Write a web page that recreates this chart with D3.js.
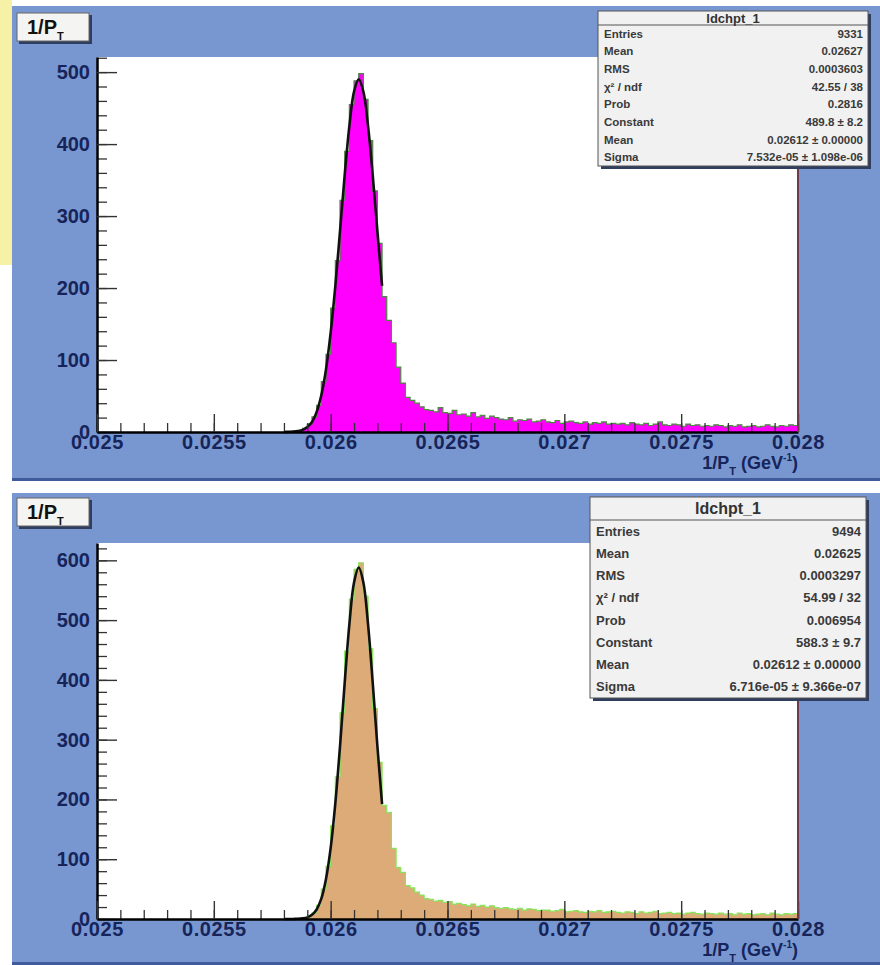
<!DOCTYPE html>
<html>
  <head>
    <title>ldchpt_1 1/PT histograms</title>
    <style>
      body { margin: 0; background: #fff; }
      text { font-family: "Liberation Sans", Arial, sans-serif; }
    </style>
  </head>
  <body>
    <script src="https://d3js.org/d3.v7.min.js"></script>
    <script>
      // histogram binning (1/PT, GeV^-1): bins start at binLo, width binWidth
      var binLo = 0.0258;
      var binWidth = 0.00002;

      // bin contents, upper panel (magenta)
      var countsTop = [
        0, 0, 1, 2, 5, 11, 21, 37, 70, 108,
        172, 238, 322, 390, 455, 488, 498, 462, 405, 335,
        262, 188, 155, 124, 90, 68, 48, 44, 40, 35,
        31, 30, 28, 34, 27, 26, 30, 24, 25, 22,
        27, 21, 23, 19, 22, 20, 18, 17, 20, 15,
        17, 16, 18, 14, 15, 17, 14, 13, 16, 12,
        14, 15, 13, 12, 14, 11, 13, 12, 14, 11,
        12, 11, 12, 10, 13, 11, 10, 12, 9, 11,
        14, 10, 9, 11, 10, 8, 11, 9, 10, 8,
        9, 8, 10, 9, 7, 9, 8, 10, 7, 8,
        9, 7, 8, 10, 8, 7, 9, 8, 10, 9
      ];

      // bin contents, lower panel (tan)
      var countsBottom = [
        0, 0, 0, 1, 2, 5, 10, 23, 50, 88,
        156, 238, 345, 448, 535, 585, 596, 540, 452, 352,
        262, 190, 178, 118, 86, 78, 56, 52, 45, 40,
        34, 33, 30, 31, 28, 29, 25, 26, 24, 22,
        25, 21, 23, 20, 22, 19, 18, 19, 17, 16,
        18, 15, 17, 16, 14, 15, 15, 13, 14, 16,
        12, 13, 14, 12, 11, 13, 12, 14, 11, 12,
        13, 11, 10, 12, 11, 9, 12, 10, 11, 13,
        9, 10, 11, 9, 10, 8, 10, 11, 9, 8,
        10, 9, 8, 10, 8, 9, 7, 10, 8, 9,
        7, 8, 9, 7, 10, 8, 7, 9, 8, 9
      ];

      var fitXs = [
        0.0258, 0.02582, 0.02584, 0.02586, 0.02588, 0.0259, 0.02592, 0.02594,
        0.02596, 0.02598, 0.026, 0.02602, 0.02604, 0.02606, 0.02608, 0.0261,
        0.02612, 0.02614, 0.02616, 0.02618, 0.0262, 0.02622
      ];
      var fitTop = [
        0, 0.2, 0.5, 1.3, 3, 7, 14, 28, 51, 87, 138, 203,
        279, 357, 425, 473, 490, 473, 425, 357, 279, 203
      ];
      var fitBottom = [
        0, 0, 0.1, 0.3, 1, 2.7, 7, 16, 34, 67, 119, 194,
        289, 395, 493, 563, 588, 563, 493, 395, 289, 192
      ];

      var xTicks = [0.025, 0.0255, 0.026, 0.0265, 0.027, 0.0275, 0.028];
      var xTickLabels = ["0.025", "0.0255", "0.026", "0.0265", "0.027", "0.0275", "0.028"];
      var yTicksTop = [0, 100, 200, 300, 400, 500];
      var yTicksBottom = [0, 100, 200, 300, 400, 500, 600];

      var statLabels = ["Entries", "Mean", "RMS", "\u03c7\u00b2 / ndf", "Prob", "Constant", "Mean", "Sigma"];
      var statsTop = ["9331", "0.02627", "0.0003603", "42.55 / 38", "0.2816",
                      "489.8 \u00b1 8.2", "0.02612 \u00b1 0.00000", "7.532e-05 \u00b1 1.098e-06"];
      var statsBottom = ["9494", "0.02625", "0.0003297", "54.99 / 32", "0.006954",
                         "588.3 \u00b1 9.7", "0.02612 \u00b1 0.00000", "6.716e-05 \u00b1 9.366e-07"];

      var W = 880, H = 965;
      var blue = "#7897d0", navy = "#16245a";

      var svg = d3.select("body").append("svg").attr("width", W).attr("height", H);

      // pale yellow strip at the left edge
      svg.append("rect").attr("x", 0).attr("y", 0).attr("width", 12).attr("height", 265).attr("fill", "#f6f1a6");

      function panel(opt) {
        var g = svg.append("g");
        // blue pad
        g.append("rect").attr("x", 12).attr("y", opt.padTop).attr("width", W - 12)
          .attr("height", opt.padBottom - opt.padTop).attr("fill", blue);
        g.append("rect").attr("x", 12).attr("y", opt.padBottom - 3).attr("width", W - 12)
          .attr("height", 3).attr("fill", "#3f5b9c");

        var x = d3.scaleLinear().domain([0.025, 0.028]).range([97, 798]);
        var y = d3.scaleLinear().domain([0, opt.yMax]).range([opt.plotBottom, opt.plotTop]);

        // frame
        g.append("rect").attr("x", 97).attr("y", opt.plotTop).attr("width", 701)
          .attr("height", opt.plotBottom - opt.plotTop).attr("fill", "#fff");

        // histogram
        var edges = opt.counts.map(function(c, i) { return { x: binLo + i * binWidth, c: c }; });
        edges.push({ x: binLo + opt.counts.length * binWidth, c: opt.counts[opt.counts.length - 1] });
        var area = d3.area().curve(d3.curveStepAfter)
          .x(function(d) { return x(d.x); }).y0(y(0)).y1(function(d) { return y(d.c); });
        var line = d3.line().curve(d3.curveStepAfter)
          .x(function(d) { return x(d.x); }).y(function(d) { return y(d.c); });
        g.append("path").datum(edges).attr("d", area).attr("fill", opt.fill);
        g.append("path").datum(edges).attr("d", line).attr("fill", "none")
          .attr("stroke", opt.lineColor).attr("stroke-width", 1.2);

        // fit curve
        var fitPts = fitXs.map(function(v, i) { return [v, opt.fit[i]]; });
        g.append("path").datum(fitPts)
          .attr("d", d3.line().curve(d3.curveCatmullRom)
            .x(function(d) { return x(d[0]); }).y(function(d) { return y(d[1]); }))
          .attr("fill", "none").attr("stroke", "#111").attr("stroke-width", 2.6);

        // minor ticks
        var minorY = [];
        for (var v = 0; v <= opt.yMax; v += 20) minorY.push(v);
        var minorX = [];
        for (var k = 0; k <= 30; k++) minorX.push(0.025 + k * 0.0001);
        g.append("g").attr("transform", "translate(97,0)")
          .call(d3.axisLeft(y).tickValues(minorY).tickSize(-10).tickSizeOuter(0).tickFormat(""))
          .call(function(s) { s.select(".domain").remove(); s.selectAll("line").attr("stroke", "#333").attr("stroke-width", 1.3); });
        g.append("g").attr("transform", "translate(0," + opt.plotBottom + ")")
          .call(d3.axisBottom(x).tickValues(minorX).tickSize(-9).tickSizeOuter(0).tickFormat(""))
          .call(function(s) { s.select(".domain").remove(); s.selectAll("line").attr("stroke", "#333").attr("stroke-width", 1.3); });

        // major ticks + labels
        var ay = g.append("g").attr("transform", "translate(97,0)")
          .call(d3.axisLeft(y).tickValues(opt.yTicks).tickSize(-20).tickSizeOuter(0).tickPadding(7));
        var ax = g.append("g").attr("transform", "translate(0," + opt.plotBottom + ")")
          .call(d3.axisBottom(x).tickValues(xTicks).tickSize(-18).tickSizeOuter(0).tickPadding(3)
            .tickFormat(function(d, i) { return xTickLabels[i]; }));
        [ay, ax].forEach(function(a) {
          a.select(".domain").attr("stroke", "#000").attr("stroke-width", 2.5);
          a.selectAll("line").attr("stroke", "#333").attr("stroke-width", 1.4);
          a.selectAll("text").attr("fill", navy).attr("font-size", 20).attr("font-weight", "bold")
            .style("font-family", "'Liberation Sans', Arial, sans-serif");
        });
        ax.selectAll("text").attr("letter-spacing", 0.6);

        // right frame edge
        g.append("line").attr("x1", 798).attr("x2", 798).attr("y1", opt.plotTop).attr("y2", opt.plotBottom)
          .attr("stroke", "#6d3c4c").attr("stroke-width", 2);

        // x-axis title
        var xt = g.append("text").attr("x", 798).attr("y", opt.plotBottom + 37)
          .attr("text-anchor", "end").attr("fill", navy).attr("font-size", 18).attr("font-weight", "bold");
        xt.append("tspan").text("1/P");
        xt.append("tspan").attr("font-size", 11).attr("dy", 6).text("T");
        xt.append("tspan").attr("dy", -6).text(" (GeV");
        xt.append("tspan").attr("font-size", 10).attr("dy", -8).text("-1");
        xt.append("tspan").attr("dy", 8).text(")");

        // title box
        g.append("rect").attr("x", 19).attr("y", opt.titleY + 2).attr("width", 73).attr("height", 29).attr("fill", "#2f3d5e");
        g.append("rect").attr("x", 17).attr("y", opt.titleY).attr("width", 72).attr("height", 28)
          .attr("fill", "#f4f4f2").attr("stroke", "#666").attr("stroke-width", 1);
        var tt = g.append("text").attr("x", 27).attr("y", opt.titleY + 21).attr("fill", "#111")
          .attr("font-size", 20).attr("font-weight", "bold");
        tt.append("tspan").text("1/P");
        tt.append("tspan").attr("font-size", 11).attr("dy", 6).text("T");

        // stats box
        var b = opt.box;
        g.append("rect").attr("x", b.x0 + 3).attr("y", b.y0 + 3).attr("width", b.x1 - b.x0).attr("height", b.y1 - b.y0)
          .attr("fill", "#2f3d5e");
        g.append("rect").attr("x", b.x0).attr("y", b.y0).attr("width", b.x1 - b.x0).attr("height", b.y1 - b.y0)
          .attr("fill", "#f1f1f1").attr("stroke", "#555").attr("stroke-width", 1);
        g.append("line").attr("x1", b.x0).attr("x2", b.x1).attr("y1", b.sep).attr("y2", b.sep)
          .attr("stroke", "#555").attr("stroke-width", 1.2);
        g.append("text").attr("x", (b.x0 + b.x1) / 2).attr("y", (b.y0 + b.sep) / 2).attr("dy", "0.35em")
          .attr("text-anchor", "middle").attr("font-size", b.titleSize).attr("font-weight", "bold")
          .attr("fill", "#333").text("ldchpt_1");
        var rowH = (b.y1 - b.sep) / statLabels.length;
        statLabels.forEach(function(lab, i) {
          var cy = b.sep + rowH * (i + 0.5);
          g.append("text").attr("x", b.x0 + 6).attr("y", cy).attr("dy", "0.35em")
            .attr("font-size", b.fontSize).attr("font-weight", "bold").attr("fill", "#3a3a3a").text(lab);
          g.append("text").attr("x", b.x1 - 5).attr("y", cy).attr("dy", "0.35em").attr("text-anchor", "end")
            .attr("font-size", b.fontSize).attr("font-weight", "bold").attr("fill", "#3a3a3a").text(opt.stats[i]);
        });
      }

      panel({
        padTop: 6, padBottom: 481, plotTop: 57, plotBottom: 432, yMax: 521,
        counts: countsTop, fit: fitTop, yTicks: yTicksTop,
        fill: "#ff00ff", lineColor: "#4f8a45", titleY: 13, stats: statsTop,
        box: { x0: 598, x1: 868, y0: 11, y1: 166, sep: 25, fontSize: 11.5, titleSize: 13 }
      });
      panel({
        padTop: 493, padBottom: 965, plotTop: 543, plotBottom: 919, yMax: 629,
        counts: countsBottom, fit: fitBottom, yTicks: yTicksBottom,
        fill: "#dcab78", lineColor: "#86e65a", titleY: 498, stats: statsBottom,
        box: { x0: 590, x1: 866, y0: 497, y1: 698, sep: 520, fontSize: 13, titleSize: 16 }
      });
    </script>
  </body>
</html>
